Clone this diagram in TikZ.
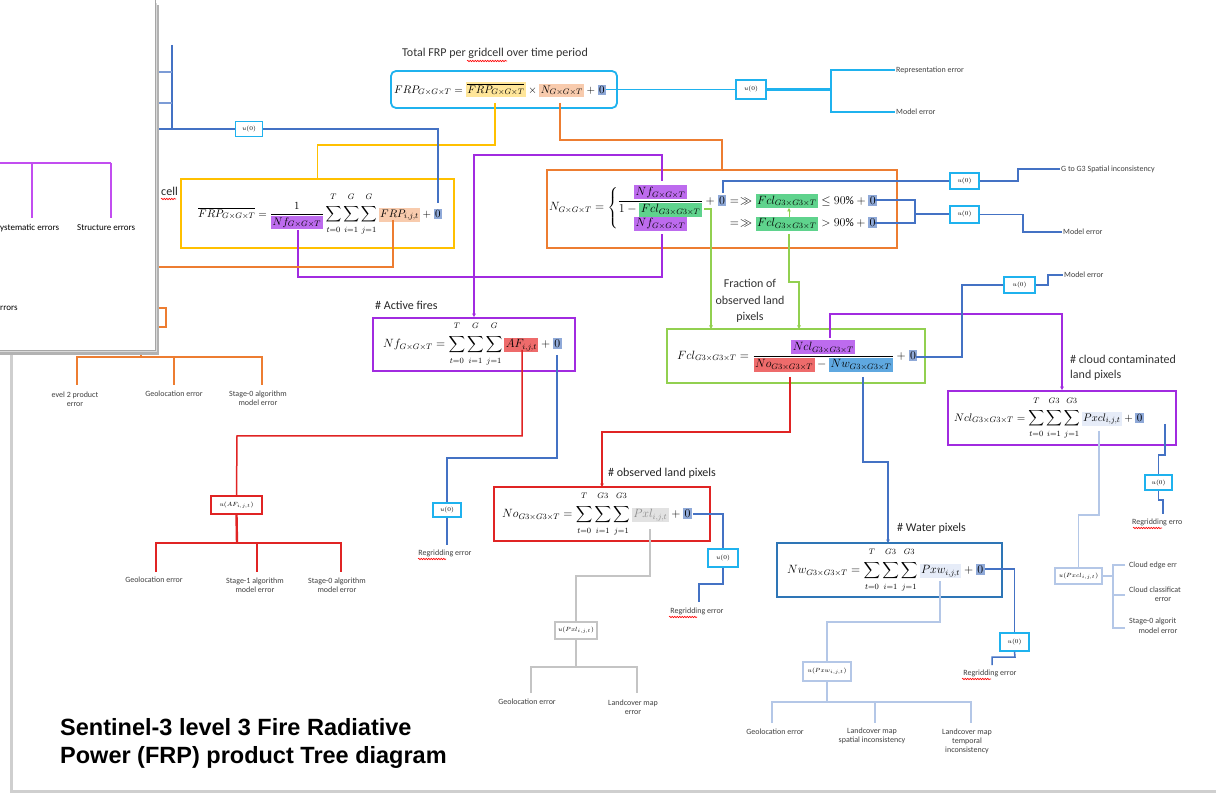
\documentclass[tikz,border=0pt]{standalone}
\usepackage{amsmath,amssymb}
\usepackage{fontspec}
\setmainfont{Carlito}
\newfontfamily\titlefont{Liberation Sans}
\usetikzlibrary{arrows.meta,decorations.pathmorphing}
\definecolor{cyanb}{HTML}{1FB2EE}
\definecolor{blu}{HTML}{4472C4}
\definecolor{yel}{HTML}{FFC000}
\definecolor{yelhl}{HTML}{FFE699}
\definecolor{org}{HTML}{ED7D31}
\definecolor{orghl}{HTML}{F8CBAD}
\definecolor{pur}{HTML}{A12BE0}
\definecolor{purl}{HTML}{C24DF0}
\definecolor{purhl}{HTML}{BD6BEE}
\definecolor{grn}{HTML}{92D050}
\definecolor{grnhl}{HTML}{5FD38D}
\definecolor{red1}{HTML}{E02424}
\definecolor{redhl}{HTML}{EE6B6B}
\definecolor{nwb}{HTML}{2E75B6}
\definecolor{nwhl}{HTML}{5FA8E0}
\definecolor{zhl}{HTML}{8FA9D8}
\definecolor{lblu}{HTML}{B4C7E7}
\definecolor{lbluhl}{HTML}{E6ECF8}
\definecolor{gry}{HTML}{C4C4C4}
\definecolor{gryhl}{HTML}{E2E2E2}
\definecolor{framec}{HTML}{CFCFCF}
\newcommand{\hlb}[2]{\begingroup\setlength{\fboxsep}{1.5pt}\colorbox{#1}{$\displaystyle #2$}\endgroup}
\newcommand{\GGT}{G\times G\times T}
\newcommand{\GGGT}{G3\times G3\times T}
\newcommand{\upl}[1]{\raisebox{4pt}{$\scriptstyle #1$}}
\newcommand{\lol}[1]{\raisebox{-2.5pt}{$\scriptstyle #1$}}
\newcommand{\tsum}[2]{\sum_{\lol{#1}}^{\upl{#2}}}
\begin{document}
\begin{tikzpicture}[x=1pt,y=-1pt,
  box/.style={draw, line width=1.8pt, inner sep=0pt},
  ubox/.style={draw=cyanb, line width=1.4pt, fill=white, inner sep=0.5pt, font=\fontsize{6}{7}\selectfont},
  fml/.style={inner sep=0pt, font=\fontsize{11}{13}\selectfont},
  fmlb/.style={inner sep=0pt, font=\fontsize{11.5}{13.5}\selectfont},
  lbl/.style={font=\fontsize{8}{9}\selectfont, align=center, text=black!75, inner sep=1pt},
  head/.style={font=\fontsize{12}{14}\selectfont, align=left, text=black!85, inner sep=0pt},
  ln/.style={line width=1.5pt},
  arr/.style={-{Triangle[length=3.5pt,width=3.5pt]}},
  squig/.style={red, line width=0.6pt, decorate, decoration={snake, amplitude=0.7pt, segment length=2.5pt}}]
\useasboundingbox (0,0) rectangle (1216,799);
\fill[white] (0,0) rectangle (1216,799);
% page frame
\draw[framec, line width=3pt] (11,340) -- (11,791) -- (1216,791);

% ---------- top formula ----------
\node[head, text=black!80] (ttop) at (495,53) {Total FRP per gridcell over time period};
\draw[squig] (467,61) -- (507,61);
\node[box, draw=cyanb, rounded corners=5pt, minimum width=226pt, minimum height=37pt] (topbox) at (504,89.5) {};
\node[fml, anchor=west] (topf) at (394,89.5) {$\displaystyle FRP_{\GGT} = \hlb{yelhl}{\overline{FRP_{\GGT}}} \times \hlb{orghl}{N_{\GGT}} + \hlb{zhl}{0}$};
\coordinate (tFRP) at (495,103);
\coordinate (tN) at (560,103);
\coordinate (t0) at (606,89.5);
\node[ubox, minimum width=30pt, minimum height=19pt] (u1) at (751,89.5) {$u(0)$};
\coordinate (j1) at (831,89.5);
\node[lbl, anchor=west] (repr) at (895,70) {Representation error};
\node[lbl, anchor=west] (mod1) at (895,112) {Model error};
\draw[cyanb, ln] (t0) -- (u1.west);
\draw[cyanb, line width=2.6pt] (u1.east) -- (j1);
\draw[cyanb, ln] (repr.west) -| (j1) |- (mod1.west);

% ---------- yellow box ----------
\node[head, anchor=west] (hcell) at (161,191) {cell};
\draw[squig] (161,199) -- (176,199);
\node[box, draw=yel, minimum width=273pt, minimum height=69pt] (yb) at (317.5,213.5) {};
\node[fml, anchor=west] (yf) at (198,214) {$\displaystyle \overline{FRP_{\GGT}} = \frac{1}{\hlb{purhl}{Nf_{\GGT}}}\tsum{t=0}{T}\tsum{i=1}{G}\tsum{j=1}{G}\hlb{orghl}{FRP_{i,j,t}} + \hlb{zhl}{0}$};
\coordinate (yNf) at (298,230);
\coordinate (yFRP) at (393,220);
\coordinate (y0) at (438,203);
\draw[yel, ln] (tFRP) -- (495,145) -| (yb.north);

% top-left blue
\node[ubox, minimum width=27pt, minimum height=15pt] (u0) at (249,129) {$u(0)$};
\coordinate (tl1) at (172,45);
\coordinate (tl2) at (172,129);
\coordinate (tl3) at (150,129);
\draw[blu, ln] (y0) |- (u0.east);
\draw[blu, line width=2.2pt] (u0.west) -- (tl3);
\draw[blu, ln] (tl1) -- (tl2);
\draw[blu!70, ln] (150,72) -- (172,72);
\draw[blu!70, ln] (150,103) -- (172,103);

% ---------- N box ----------
\node[box, draw=org, minimum width=350pt, minimum height=78pt] (nb) at (722,209) {};
\node[fmlb, anchor=west] (nf) at (549,208) {$\displaystyle N_{\GGT} = \left\{\begin{array}{@{}c@{}l@{}l@{}}
 \dfrac{\hlb{purhl}{Nf_{\GGT}}}{1-\hlb{grnhl}{Fcl_{\GGGT}}} & {}+\hlb{zhl}{0}\; & {=}\!\gg \hlb{grnhl}{Fcl_{\GGGT}} \le 90\% + \hlb{zhl}{0}\\[1pt]
 \hlb{purhl}{Nf_{\GGT}} & & {=}\!\gg \hlb{grnhl}{Fcl_{\GGGT}} > 90\% + \hlb{zhl}{0}
\end{array}\right.$};
\coordinate (nNf1) at (662,181);
\coordinate (nNf2) at (662,234);
\coordinate (n0a) at (723,193);
\coordinate (n0b) at (875,200);
\coordinate (n0c) at (875,223);
\coordinate (nFcl1) at (704,209);
\coordinate (nFcl2) at (789,208);
\coordinate (nFcl3) at (789,234);
\coordinate (nFcl3t) at (789,217);
\draw[org, ln] (tN) -- (560,140) -| (nb.north);
\draw[pur, ln] (yNf) |- (662,277) -- (nNf2);
\draw[org, ln] (yFRP) |- (150,267);

\node[ubox, minimum width=29pt, minimum height=16pt] (u2) at (964.5,181) {$u(0)$};
\node[ubox, minimum width=29pt, minimum height=17pt] (u3) at (964.5,214.5) {$u(0)$};
\node[lbl, anchor=west] (lG) at (1060,169) {G to G3 Spatial inconsistency};
\node[lbl, anchor=west] (lM2) at (1062,232) {Model error};
\draw[blu, ln] (n0a) |- (u2.west);
\draw[blu, ln] (u2.east) -- (1018,181) |- (lG.west);
\draw[blu, ln] (n0b) -- (915,200) -- (915,223) -- (n0c);
\draw[blu, line width=2pt] (915,214.5) -- (u3.west);
\draw[blu, ln] (u3.east) -- (1023,214.5) |- (lM2.west);

% ---------- Nf box ----------
\node[head, anchor=west] (hAF) at (375,305) {\# Active fires};
\node[box, draw=pur, minimum width=202pt, minimum height=53pt] (nfb) at (474,344.5) {};
\node[fmlb, anchor=west] (nff) at (383,344) {$\displaystyle Nf_{\GGT} = \tsum{t=0}{T}\tsum{i=1}{G}\tsum{j=1}{G}\hlb{redhl}{AF_{i,j,t}} + \hlb{zhl}{0}$};
\coordinate (nfAF) at (522,350);
\coordinate (nf0) at (557,355);
\draw[pur, ln, arr] (nNf1) |- (474,155) -- (nfb.north);

% ---------- Fcl box ----------
\node[head, align=center, text=black!80, font=\fontsize{12}{16.5}\selectfont] (hfr) at (750,301) {Fraction of\\observed land\\pixels};
\node[box, draw=grn, minimum width=258pt, minimum height=54pt] (fb) at (796,356) {};
\node[fmlb, anchor=west] (ff) at (677,356) {$\displaystyle Fcl_{\GGGT} = \frac{\hlb{purhl}{Ncl_{\GGGT}}}{\hlb{redhl}{No_{\GGGT}} - \hlb{nwhl}{Nw_{\GGGT}}} + \hlb{zhl}{0}$};
\coordinate (fT1) at (711,329);
\coordinate (fT2) at (799,329);
\coordinate (fNcl) at (830,338);
\coordinate (fNo) at (790,377);
\coordinate (fNw) at (863,377);
\coordinate (f0) at (916,357);
\draw[grn, ln, arr] (nFcl1) -| (fT1);
\draw[grn, ln, arr] (nFcl3) -- (789,282) -| (fT2);
\draw[grn, line width=1pt, arr] (nFcl3t) -- (nFcl2);

% ---------- Ncl box ----------
\node[head, anchor=north west, text=black!80, font=\fontsize{12}{15}\selectfont] (hcl) at (1070,355) {\# cloud contaminated\\land pixels};
\node[box, draw=pur, minimum width=228pt, minimum height=54pt] (nclb) at (1062,418) {};
\node[fml, anchor=west] (nclf) at (954,418) {$\displaystyle Ncl_{\GGGT} = \tsum{t=0}{T}\tsum{i=1}{G3}\tsum{j=1}{G3}\hlb{lbluhl}{Pxcl_{i,j,t}} + \hlb{zhl}{0}$};
\coordinate (c0) at (1165,424);
\coordinate (cPx) at (1099,431);
\draw[pur, ln, arr] (fNcl) |- (1062,314) -- (nclb.north);
\node[ubox, minimum width=31pt, minimum height=16pt] (u4) at (1019.5,285) {$u(0)$};
\node[lbl, anchor=west] (lM3) at (1063,275) {Model error};
\draw[blu, ln] (f0) -| (962,285) -- (u4.west);
\draw[blu, ln] (u4.east) -- (1048,285) |- (lM3.west);

\node[ubox, minimum width=27pt, minimum height=15pt] (u5) at (1158.5,482.5) {$u(0)$};
\node[lbl, anchor=west] (rg5) at (1131,522) {Regridding erro};
\draw[squig] (1133,528) -- (1162,528);
\draw[blu, ln] (c0) -- (1165,455) -- (1158.5,455) -- (u5.north);
\draw[blu, ln] (u5.south) -- (1158.5,500) -- (1163,500) -- (1163,514);

\node[ubox, draw=lblu, minimum width=47pt, minimum height=16pt] (u6) at (1078.5,576) {$u(Pxcl_{i,j,t})$};
\draw[lblu, ln] (cPx) -- (1099,515) -- (1078.5,515) -- (u6.north);
\draw[lblu, ln] (u6.east) -- (1113,576);
\draw[lblu, ln] (1125,565) -- (1113,565) -- (1113,628) -- (1125,628);
\draw[lblu, ln] (1113,595) -- (1125,595);
\node[lbl, anchor=west] (ce1) at (1128,565) {Cloud edge err};
\node[lbl, anchor=west] (ce2) at (1128,590) {Cloud classificat};
\node[lbl] (ce2b) at (1163,600) {error};
\node[lbl, anchor=west] (ce3) at (1128,621) {Stage-0 algorit};
\node[lbl] (ce3b) at (1158,631) {model error};

% ---------- AF branch ----------
\node[ubox, draw=red1, minimum width=51pt, minimum height=18pt] (uaf) at (236.5,505) {$u(AF_{i,j,t})$};
\draw[red1, ln] (nfAF) |- (237,436) -- (uaf.north);
\draw[red1, line width=2.4pt] (uaf.south) -- (237,543);
\draw[red1, ln] (156,572) -- (156,543) -- (341,543) -- (341,572);
\draw[red1, ln] (257,543) -- (257,572);
\node[lbl] (af1) at (154,580) {Geolocation error};
\node[lbl] (af2) at (255,585) {Stage-1 algorithm\\model error};
\node[lbl] (af3) at (337,585) {Stage-0 algorithm\\model error};

\node[ubox, minimum width=28pt, minimum height=14pt] (u7) at (447,510) {$u(0)$};
\draw[blu, ln] (nf0) |- (447,458) -- (u7.north);
\draw[blu, ln] (u7.south) -- (447,545);
\node[lbl] (rg7) at (445,553) {Regridding error};
\draw[squig] (418,559) -- (446,559);

% ---------- No box ----------
\draw[red1, ln, arr] (fNo) |- (602,432) -- (602,487);
\node[head, anchor=west] (hno) at (608,473) {\# observed land pixels};
\node[box, draw=red1, minimum width=216pt, minimum height=54pt] (nob) at (602,514) {};
\node[fmlb, anchor=west] (nof) at (502,514) {$\displaystyle No_{\GGGT} = \tsum{t=0}{T}\tsum{i=1}{G3}\tsum{j=1}{G3}\hlb{gryhl}{\color{black!45}Pxl_{i,j,t}} + \hlb{zhl}{0}$};
\coordinate (noPx) at (650,529);
\coordinate (no0) at (693,514);
\node[ubox, minimum width=30pt, minimum height=18pt] (u8) at (723,558) {$u(0)$};
\draw[blu, ln] (no0) -| (u8.north);
\draw[blu, ln] (u8.south) -- (723,584) -| (699,602);
\node[lbl] (rg8) at (697,611) {Regridding error};
\draw[squig] (669,617) -- (697,617);
\node[ubox, draw=gry, minimum width=42pt, minimum height=17pt] (u9) at (576,630.5) {$u(Pxl_{i,j,t})$};
\draw[gry, ln] (noPx) -- (650,576) -| (u9.north);
\draw[gry, ln] (u9.south) -- (576,667);
\draw[gry, ln] (531,693) -- (531,667) -- (637,667) -- (637,693);
\node[lbl] (pl1) at (527,702) {Geolocation error};
\node[lbl] (pl2) at (633,707) {Landcover map\\error};

% ---------- Nw box ----------
\draw[blu, ln, arr] (fNw) -- (863,462) -| (888,543);
\node[head, anchor=west] (hnw) at (897,528) {\# Water pixels};
\node[box, draw=nwb, minimum width=225pt, minimum height=54pt] (nwb) at (889.5,570) {};
\node[fmlb, anchor=west] (nwf) at (787,570) {$\displaystyle Nw_{\GGGT} = \tsum{t=0}{T}\tsum{i=1}{G3}\tsum{j=1}{G3}\hlb{lbluhl}{Pxw_{i,j,t}} + \hlb{zhl}{0}$};
\coordinate (nwPx) at (940,581);
\coordinate (nw0) at (985,569);
\node[ubox, minimum width=29pt, minimum height=18pt] (u10) at (1014.5,642) {$u(0)$};
\draw[blu, ln] (nw0) -| (u10.north);
\draw[blu, ln] (u10.south) -- (1015,657) -| (992,665);
\node[lbl] (rg10) at (990,673) {Regridding error};
\draw[squig] (962,679) -- (991,679);
\node[ubox, draw=lblu, minimum width=48pt, minimum height=19pt] (u11) at (827,671.5) {$u(Pxw_{i,j,t})$};
\draw[lblu, ln] (nwPx) -- (940,622) -| (u11.north);
\draw[lblu, ln] (u11.south) -- (827,702);
\draw[lblu, ln] (772,723) -- (772,702) -- (971,702) -- (971,723);
\draw[lblu, ln] (875,702) -- (875,723);
\node[lbl] (pw1) at (775,732) {Geolocation error};
\node[lbl] (pw2) at (872,736) {Landcover map\\spatial inconsistency};
\node[lbl] (pw3) at (967,741) {Landcover map\\temporal\\inconsistency};

% ---------- orange lower-left ----------
\node[ubox, draw=org, minimum width=50pt, minimum height=19pt] (uor) at (141,317.5) {};
\draw[org, ln] (uor.south) -- (141,357);
\draw[org, ln] (77,385) -- (77,357) -- (262,357) -- (262,385);
\draw[org, ln] (174,357) -- (174,385);
\node[lbl] (or1) at (75,399) {evel 2 product\\error};
\node[lbl] (or2) at (174,394) {Geolocation error};
\node[lbl] (or3) at (258,398) {Stage-0 algorithm\\model error};

% ---------- overlay window ----------
\fill[black!30] (0,5) rectangle (159,355);
\fill[black!15] (0,3) rectangle (157,352);
\fill[white] (0,0) rectangle (155,350);
\draw[black!35, line width=0.6pt] (155,0) -- (155,350) -- (0,350);
\draw[purl, line width=1.2pt] (0,163) -- (111,163);
\draw[purl, line width=1.2pt] (32,163) -- (32,218);
\draw[purl, line width=1.2pt] (111,163) -- (111,218);
\node[anchor=west, inner sep=0pt, font=\fontsize{9}{10}\selectfont] (ov1) at (0,228) {ystematic errors};
\node[anchor=west, inner sep=0pt, font=\fontsize{9}{10}\selectfont] (ov2) at (77,228) {Structure errors};
\node[anchor=west, inner sep=0pt, font=\fontsize{9}{10}\selectfont] (ov3) at (0,308) {rrors};

% ---------- title ----------
\node[anchor=base west, inner sep=0pt, align=left, font=\titlefont\bfseries\fontsize{23.5}{28}\selectfont] (title) at (60,763) {Sentinel-3 level 3 Fire Radiative\\Power (FRP) product Tree diagram};
\end{tikzpicture}
\end{document}
